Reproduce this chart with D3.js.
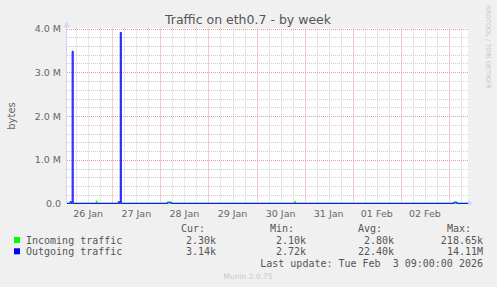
<!DOCTYPE html>
<html>
<head>
<meta charset="utf-8">
<script src="https://cdn.jsdelivr.net/npm/d3@7"></script>
<style>
  body { margin: 0; background: #f0f0f0; }
  svg { display: block; }
</style>
</head>
<body>
<div id="showBox"></div>
<script>
// time window of the graph (UTC)
const startTime = "2026-01-26T01:25:00Z"
const endTime = "2026-02-03T09:30:00Z"

// y ticks
const yTickValues = [0, 1e6, 2e6, 3e6, 4e6]
const yTickLabels = ["0.0", "1.0 M", "2.0 M", "3.0 M", "4.0 M"]

// x labels (placed at noon of each day)
const dayLabels = ["26 Jan", "27 Jan", "28 Jan", "29 Jan", "30 Jan", "31 Jan", "01 Feb", "02 Feb"]

// outgoing traffic, bytes
const outTimes = [
    "2026-01-26T01:25", "2026-01-26T02:30", "2026-01-26T03:00", "2026-01-26T03:30",
    "2026-01-26T04:00", "2026-01-26T04:30", "2026-01-27T02:30", "2026-01-27T03:00",
    "2026-01-27T03:30", "2026-01-27T04:00", "2026-01-27T04:30", "2026-01-28T03:00",
    "2026-01-28T03:30", "2026-01-28T05:00", "2026-01-28T05:30", "2026-02-03T02:00",
    "2026-02-03T02:30", "2026-02-03T03:30", "2026-02-03T04:00", "2026-02-03T09:30"
]
const outBytes = [
    3100, 3000, 45000, 3200,
    3480000, 3000, 2900, 42000,
    3100, 3910000, 3000, 2800,
    30000, 28000, 2900, 2800,
    32000, 30000, 3100, 3140
]

// incoming traffic, bytes
const inTimes = [
    "2026-01-26T01:25", "2026-01-26T15:30", "2026-01-26T16:00", "2026-01-26T16:30",
    "2026-01-30T18:30", "2026-01-30T19:00", "2026-01-30T19:30", "2026-02-03T09:30"
]
const inBytes = [2800, 2700, 55000, 2800, 2600, 50000, 2800, 2300]

// legend
const seriesNames = ["Incoming traffic", "Outgoing traffic"]
const seriesColors = ["#00ff00", "#0000ff"]
const statHeaders = ["Cur:", "Min:", "Avg:", "Max:"]
const curVals = ["2.30k", "3.14k"]
const minVals = ["2.10k", "2.72k"]
const avgVals = ["2.80k", "22.40k"]
const maxVals = ["218.65k", "14.11M"]
const lastUpdate = "Last update: Tue Feb  3 09:00:00 2026"

const W = 497, H = 287
const pLeft = 67, pRight = 468, pTop = 28.5, pBottom = 203.5

const parse = d3.utcParse("%Y-%m-%dT%H:%M")
const x = d3.scaleUtc().domain([new Date(startTime), new Date(endTime)]).range([pLeft, pRight])
const y = d3.scaleLinear().domain([0, 4e6]).range([pBottom, pTop])

const svg = d3.select("#showBox").append("svg").attr("width", W).attr("height", H)
svg.append("rect").attr("width", W).attr("height", H).attr("fill", "#f0f0f0")
svg.append("rect").attr("x", pLeft).attr("y", pTop - 0.5).attr("width", pRight - pLeft)
    .attr("height", pBottom - pTop + 0.5).attr("fill", "#fff")

const px = v => Math.round(v) + 0.5
const [t0, t1] = x.domain()

// minor grid
const grid = svg.append("g").attr("stroke-width", 1).attr("fill", "none")
grid.selectAll("line.vmin")
    .data(d3.utcHour.every(6).range(t0, t1).filter(d => d.getUTCHours() !== 0))
    .join("line")
    .attr("x1", d => px(x(d))).attr("x2", d => px(x(d)))
    .attr("y1", pTop).attr("y2", pBottom)
    .attr("stroke", "#cfcfcf").attr("stroke-dasharray", "1,1")
grid.selectAll("line.hmin")
    .data(y.ticks(20).filter(v => v % 1e6 !== 0))
    .join("line")
    .attr("x1", pLeft).attr("x2", pRight)
    .attr("y1", d => px(y(d))).attr("y2", d => px(y(d)))
    .attr("stroke", "#cfcfcf").attr("stroke-dasharray", "1,1")

// major grid
grid.selectAll("line.vmaj")
    .data(d3.utcDay.range(t0, t1))
    .join("line")
    .attr("x1", d => px(x(d))).attr("x2", d => px(x(d)))
    .attr("y1", pTop).attr("y2", pBottom)
    .attr("stroke", "#eb9a9a").attr("stroke-dasharray", "1,1")
grid.selectAll("line.hmaj")
    .data(yTickValues.filter(v => v > 0))
    .join("line")
    .attr("x1", pLeft).attr("x2", pRight)
    .attr("y1", d => px(y(d))).attr("y2", d => px(y(d)))
    .attr("stroke", "#eb9a9a").attr("stroke-dasharray", "1,1")

// axes
const axisColor = "#cfd6f8"
svg.append("line").attr("x1", pLeft - 0.5).attr("x2", pLeft - 0.5).attr("y1", pBottom).attr("y2", 25)
    .attr("stroke", axisColor)
svg.append("path").attr("d", `M${pLeft - 3.5},27 L${pLeft - 0.5},21.5 L${pLeft + 2.5},27 Z`).attr("fill", axisColor)
svg.append("line").attr("x1", pLeft).attr("x2", pRight + 2).attr("y1", pBottom - 0.5).attr("y2", pBottom - 0.5)
    .attr("stroke", axisColor)
svg.append("path").attr("d", `M${pRight},${pBottom - 3.5} L${pRight + 5},${pBottom - 0.5} L${pRight},${pBottom + 2.5} Z`)
    .attr("fill", axisColor)

// series
const line = d3.line().curve(d3.curveStepAfter).x(d => x(d[0])).y(d => y(d[1]))
const inData = inTimes.map((t, i) => [parse(t), inBytes[i]])
const outData = outTimes.map((t, i) => [parse(t), outBytes[i]])
svg.append("path").attr("d", line(inData)).attr("fill", "none")
    .attr("stroke", seriesColors[0]).attr("stroke-width", 1)
svg.append("path").attr("d", line(outData)).attr("fill", "none")
    .attr("stroke", seriesColors[1]).attr("stroke-width", 1)

// tick labels
const font = "DejaVu Sans, sans-serif"
const mono = "DejaVu Sans Mono, monospace"
svg.append("g").attr("font-family", font).attr("font-size", 9.5).attr("fill", "#666")
    .attr("text-anchor", "end")
    .selectAll("text").data(yTickValues).join("text")
    .attr("x", 61).attr("y", d => y(d) + 3.5)
    .text((d, i) => yTickLabels[i])

svg.append("g").attr("font-family", font).attr("font-size", 9.5).attr("fill", "#666")
    .attr("text-anchor", "middle")
    .selectAll("text").data(d3.utcDay.range(d3.utcDay.floor(t0), t1).slice(0, dayLabels.length)).join("text")
    .attr("x", d => x(d3.utcHour.offset(d, 12))).attr("y", 216.5)
    .text((d, i) => dayLabels[i])

// title and axis label
svg.append("text").attr("x", 248).attr("y", 23.5).attr("text-anchor", "middle")
    .attr("font-family", font).attr("font-size", 12.5).attr("fill", "#555")
    .text("Traffic on eth0.7 - by week")
svg.append("text").attr("transform", `translate(15,${(pTop + pBottom) / 2}) rotate(-90)`)
    .attr("text-anchor", "middle").attr("font-family", font).attr("font-size", 10).attr("fill", "#666")
    .text("bytes")

// watermarks
svg.append("text").attr("transform", "translate(485.5,5) rotate(90)")
    .attr("font-family", font).attr("font-size", 6.5).attr("fill", "#c8c8c8")
    .text("RRDTOOL / TOBI OETIKER")
svg.append("text").attr("x", 248).attr("y", 279).attr("text-anchor", "middle")
    .attr("font-family", font).attr("font-size", 7.5).attr("fill", "#c8c8c8")
    .text("Munin 2.0.75")

// legend
const lg = svg.append("g").attr("font-family", mono).attr("font-size", 10).attr("fill", "#555")
const headerX = [181, 270, 358, 447]
const valueX = [216, 306, 394, 483]
const cols = [curVals, minVals, avgVals, maxVals]
lg.selectAll("text.h").data(statHeaders).join("text")
    .attr("x", (d, i) => headerX[i]).attr("y", 231.5).text(d => d)
seriesNames.forEach((name, r) => {
    const yy = 243.5 + r * 11.3
    lg.append("rect").attr("x", 14).attr("y", yy - 6.5).attr("width", 6).attr("height", 6)
        .attr("fill", seriesColors[r])
    lg.append("text").attr("x", 26).attr("y", yy).text(name)
    cols.forEach((c, j) => {
        lg.append("text").attr("x", valueX[j]).attr("y", yy).attr("text-anchor", "end").text(c[r])
    })
})
lg.append("text").attr("x", 483).attr("y", 267).attr("text-anchor", "end")
    .attr("xml:space", "preserve").style("white-space", "pre").text(lastUpdate)
</script>
</body>
</html>
